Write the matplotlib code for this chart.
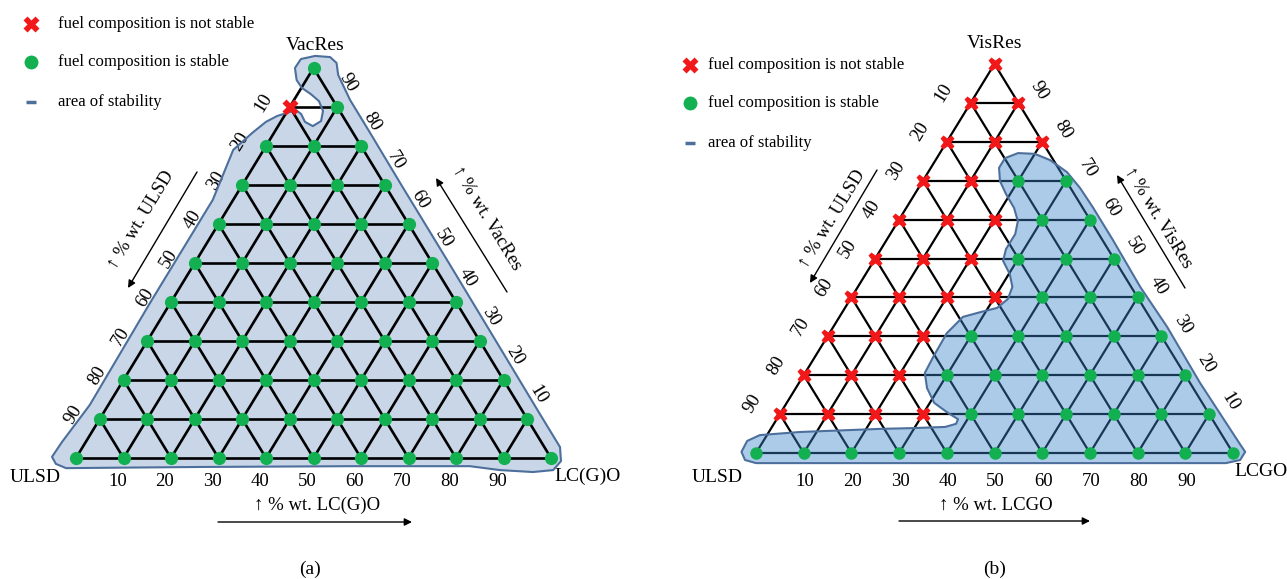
import numpy as np
import matplotlib.pyplot as plt

plt.rcParams['font.family'] = ['Liberation Serif', 'DejaVu Serif']

# composition steps (% wt.) of the mixing grid
steps = [0, 10, 20, 30, 40, 50, 60, 70, 80, 90, 100]
ticks = [10, 20, 30, 40, 50, 60, 70, 80, 90]

# number of unstable nodes in each row (row = % of the top component),
# counted from the ULSD side of the row
a_unstable = [0, 0, 0, 0, 0, 0, 0, 0, 0, 1, 0]
b_unstable = [0, 4, 3, 3, 4, 3, 3, 2, 3, 2, 1]

# outline of the area of stability, as (% LC(G)O, % VacRes/VisRes)
a_area_lcgo = [-5.2, -3.5, -0.8, 27.3, 58.7, 84.0, 90.8, 98.0, 102.0, 102.5, 100.5,
               92.0, 75.2, 54.0, 33.0, 20.3, 11.8, 6.1, 4.2, 2.1, -1.2, -3.8, -3.9,
               -2.0, 0.1, 2.8, 5.4, 7.5, 8.4, 7.3, 5.1, 3.3, 1.7, 0.2, -1.5, -3.1,
               -4.6, -6.4, -4.3, -4.3, -3.9, -5.0]
a_area_top = [0.3, -1.5, -2.6, -2.3, -2.1, -2.1, -3.1, -3.6, -3.1, -0.8, 2.8,
              11.3, 28.2, 49.5, 70.5, 83.3, 91.8, 98.2, 101.3, 102.8, 103.1, 102.3, 100.0,
              96.9, 94.9, 93.3, 91.5, 89.0, 86.4, 85.1, 86.2, 88.2, 89.2, 88.5, 87.7, 86.2,
              83.3, 79.0, 66.2, 39.7, 13.6, 4.1]

b_area_lcgo = [-3.2, -1.4, 1.3, 52.5, 99.8, 102.4, 102.4, 100.3, 84.1, 70.0, 59.2,
               47.4, 39.0, 33.9, 29.1, 24.0, 20.0, 16.4, 14.3, 14.3, 16.2, 19.1, 22.6,
               25.1, 26.2, 26.2, 27.1, 30.2, 32.4, 33.0, 31.9, 28.9, 25.9, 24.6, 24.8,
               25.1, 27.5, 30.9, 35.1, 38.0, 38.2, 36.3, 29.7, 22.9, 6.5, -1.5, -3.4]
b_area_top = [0.3, -1.8, -2.6, -2.6, -2.6, -1.8, 0.3, 2.3, 18.0, 32.4, 42.7,
              54.8, 63.2, 68.1, 72.2, 75.3, 76.9, 77.1, 75.8, 73.3, 69.9, 66.6, 63.0,
              59.6, 56.3, 52.4, 49.4, 46.0, 42.7, 39.6, 37.3, 36.2, 35.0, 30.8, 24.7,
              20.6, 16.7, 12.9, 10.3, 8.7, 7.5, 6.7, 6.4, 6.2, 5.4, 4.6, 3.1]

legend_texts = ['fuel composition is not stable', 'fuel composition is stable',
                'area of stability']

GREEN = '#12b050'
RED = '#f01818'
EDGE = '#4d6f9c'

panel_a = dict(x0=76, y0=458, w=475, h=390, fill='#c8d6e8', alpha=1.0, fz=1,
               glw=1.9, gcol='black', ms=9.5,
               loff=(-26, -4), roff=(11, -24), boff=(-6, 24),
               names=[('VacRes', 315, 45), ('ULSD', 35, 478), ('LC(G)O', 588, 476)],
               xlabel=('↑ % wt. LC(G)O', 317, 505), xarrow=((218, 522), (412, 522)),
               llabel=('↑ % wt. ULSD', 141, 220), larrow=((197, 172), (128, 288)),
               rlabel=('↑ % wt. VacRes', 487, 218), rarrow=((507, 292), (436, 178)),
               tag=('(a)', 310, 569), leg=(31, 58, [24, 62, 102]))

panel_b = dict(x0=756, y0=453, w=477, h=389, fill='#3a85cc', alpha=0.42, fz=3,
               glw=1.6, gcol='black', ms=9.0,
               loff=(-27, -10), roff=(21, -12), boff=(1, 29),
               names=[('VisRes', 995, 44), ('ULSD', 717, 477), ('LCGO', 1261, 472)],
               xlabel=('↑ % wt. LCGO', 996, 505), xarrow=((899, 521), (1090, 521)),
               llabel=('↑ % wt. ULSD', 832, 219), larrow=((877, 170), (810, 283)),
               rlabel=('↑ % wt. VisRes', 1158, 218), rarrow=((1185, 288), (1117, 175)),
               tag=('(b)', 995, 569), leg=(690, 708, [65, 103, 143]))


def draw_panel(ax, p, unstable, area_l, area_t):
    def xy(l, t):
        l = np.asarray(l, float)
        t = np.asarray(t, float)
        return p['x0'] + p['w'] * (l + t / 2) / 100, p['y0'] - p['h'] * t / 100

    ang = np.degrees(np.arctan2(p['h'], p['w'] / 2))

    # area of stability
    ax.fill(*xy(area_l, area_t), color=p['fill'], alpha=p['alpha'], lw=0, zorder=p['fz'])
    ax.fill(*xy(area_l, area_t), facecolor='none', edgecolor=EDGE, lw=1.5,
            joinstyle='round', zorder=4)

    # grid lines
    for s in steps[:-1]:
        ax.plot(*xy([0, 100 - s], [s, s]), color=p['gcol'], lw=p['glw'], zorder=2)
        ax.plot(*xy([s, s], [0, 100 - s]), color=p['gcol'], lw=p['glw'], zorder=2)
        ax.plot(*xy([100 - s, 0], [0, 100 - s]), color=p['gcol'], lw=p['glw'], zorder=2)

    # nodes
    for r, t in enumerate(steps):
        ls = np.array(steps[:11 - r])
        bad, good = ls[:unstable[r]], ls[unstable[r]:]
        ax.plot(*xy(good, np.full(len(good), t)), 'o', color=GREEN, ms=p['ms'],
                mec='none', zorder=5)
        ax.plot(*xy(bad, np.full(len(bad), t)), 'X', color=RED, ms=p['ms'] + 1.5,
                mec='none', zorder=5)

    # tick labels on the three sides
    for k in ticks:
        x, y = xy(0, 100 - k)
        ax.text(x + p['loff'][0], y + p['loff'][1], str(k), rotation=ang,
                ha='center', va='center', fontsize=13.5, rotation_mode='anchor')
        x, y = xy(100 - k, k)
        ax.text(x + p['roff'][0], y + p['roff'][1], str(k), rotation=-ang,
                ha='center', va='center', fontsize=13.5, rotation_mode='anchor')
        x, y = xy(k, 0)
        ax.text(x + p['boff'][0], y + p['boff'][1], str(k),
                ha='center', va='center', fontsize=13.5)

    for name, x, y in p['names']:
        ax.text(x, y, name, ha='center', va='center', fontsize=14)

    # axis titles with arrows
    arr = dict(arrowstyle='-|>', color='black', lw=1.0, mutation_scale=11,
               shrinkA=0, shrinkB=0)
    for key, akey, rot in [('xlabel', 'xarrow', 0), ('llabel', 'larrow', ang),
                           ('rlabel', 'rarrow', -ang)]:
        txt, x, y = p[key]
        ax.text(x, y, txt, rotation=rot, ha='center', va='center', fontsize=13.5,
                rotation_mode='anchor')
        tail, head = p[akey]
        ax.annotate('', xy=head, xytext=tail, arrowprops=arr)

    txt, x, y = p['tag']
    ax.text(x, y, txt, ha='center', va='center', fontsize=14)

    # legend
    mx, tx, ys = p['leg']
    ax.plot(mx, ys[0], 'X', color=RED, ms=11, mec='none')
    ax.plot(mx, ys[1], 'o', color=GREEN, ms=10, mec='none')
    ax.plot([mx - 5, mx + 5], [ys[2], ys[2]], color=EDGE, lw=2.5, solid_capstyle='butt')
    for txt, y in zip(legend_texts, ys):
        ax.text(tx, y, txt, ha='left', va='center', fontsize=12)


fig = plt.figure(figsize=(12.87, 5.79), dpi=100)
ax = fig.add_axes([0, 0, 1, 1])
ax.set_xlim(0, 1287)
ax.set_ylim(579, 0)
ax.axis('off')

draw_panel(ax, panel_a, a_unstable, a_area_lcgo, a_area_top)
draw_panel(ax, panel_b, b_unstable, b_area_lcgo, b_area_top)

fig.savefig('out.png', dpi=100)
